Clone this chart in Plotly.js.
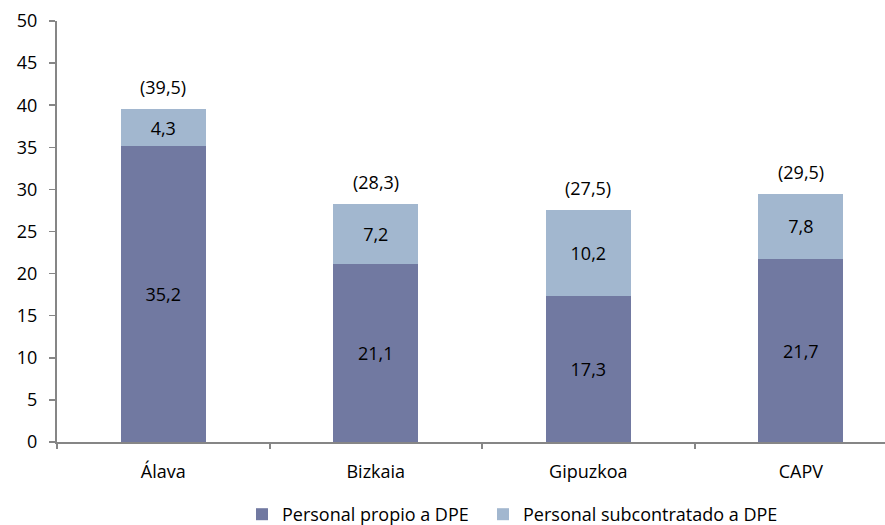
<!DOCTYPE html>
<html><head><meta charset="utf-8">
<script src="https://cdn.plot.ly/plotly-3.0.1.min.js"></script>
<style>html,body{margin:0;padding:0;background:#fff}</style>
</head><body><div id="chart" style="width:885px;height:525px"></div>
<script>
const categories = ['Álava', 'Bizkaia', 'Gipuzkoa', 'CAPV'];
const propio = [35.2, 21.1, 17.3, 21.7];
const subcontratado = [4.3, 7.2, 10.2, 7.8];
const totals = [39.5, 28.3, 27.5, 29.5];
const seriesNames = ['Personal propio a DPE', 'Personal subcontratado a DPE'];
const yTicks = [0, 5, 10, 15, 20, 25, 30, 35, 40, 45, 50];

const fmt = v => v.toFixed(1).replace('.', ',');
const FONT = 'Open Sans, sans-serif';
const FS = 18;

const traces = [
  {type: 'bar', x: categories, y: propio, name: seriesNames[0], legend: 'legend',
   marker: {color: '#7179A1'}, text: propio.map(fmt), textposition: 'inside',
   insidetextanchor: 'middle', insidetextfont: {color: '#000', size: FS, family: FONT},
   hoverinfo: 'none'},
  {type: 'bar', x: categories, y: subcontratado, name: seriesNames[1], legend: 'legend2',
   marker: {color: '#A2B7CF'}, text: subcontratado.map(fmt), textposition: 'inside',
   insidetextanchor: 'middle', insidetextfont: {color: '#000', size: FS, family: FONT},
   hoverinfo: 'none'}
];

const annotations = categories.map((c, i) => ({
  x: c, y: totals[i], xref: 'x', yref: 'y', text: '(' + fmt(totals[i]) + ')',
  showarrow: false, yanchor: 'bottom', yshift: 8,
  font: {size: FS, color: '#000', family: FONT}
}));

const legendBase = {orientation: 'h', xanchor: 'left', xref: 'paper',
  y: 0.02, yanchor: 'middle', yref: 'container', bgcolor: 'rgba(0,0,0,0)',
  font: {size: FS, family: FONT, color: '#000'}};

const layout = {
  width: 885, height: 525,
  margin: {l: 57, r: 0, t: 21, b: 83, autoexpand: false},
  barmode: 'stack', bargap: 0.6,
  paper_bgcolor: '#fff', plot_bgcolor: '#fff',
  font: {family: FONT, size: FS, color: '#000'},
  showlegend: true,
  legend: Object.assign({}, legendBase, {x: 0.2234}),
  legend2: Object.assign({}, legendBase, {x: 0.5145}),
  xaxis: {type: 'category', range: [-0.5, 3.396], showline: true, linecolor: '#868686',
          linewidth: 2, ticks: 'outside', tickson: 'boundaries', ticklen: 5,
          tickcolor: '#868686', tickwidth: 2, showgrid: false, zeroline: false,
          ticklabelstandoff: 12,
          tickfont: {size: FS, family: FONT}, fixedrange: true},
  yaxis: {range: [0, 50], tickvals: yTicks, ticktext: yTicks.map(String), showline: true,
          linecolor: '#868686', linewidth: 2, ticks: 'outside', ticklen: 6,
          tickcolor: '#868686', tickwidth: 1.5, showgrid: false, zeroline: false,
          tickfont: {size: FS, family: FONT}, ticklabelstandoff: 8, fixedrange: true},
  annotations: annotations
};

Plotly.newPlot('chart', traces, layout, {displayModeBar: false, staticPlot: true});
</script></body></html>
